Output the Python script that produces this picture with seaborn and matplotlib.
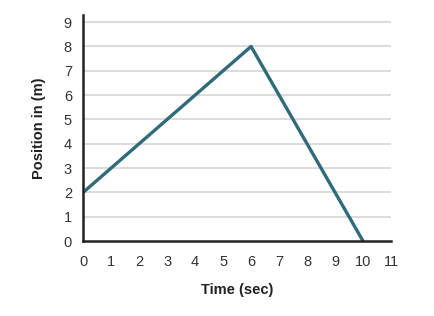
import matplotlib
matplotlib.use("Agg")
import matplotlib.pyplot as plt
import seaborn as sns
import pandas as pd

time_sec = [0, 6, 10]
position_m = [2, 8, 0]
x_ticks = list(range(0, 12))
y_ticks = list(range(0, 10))

sns.set_style("white")
plt.rcParams['font.family'] = ['Liberation Sans', 'DejaVu Sans']

df = pd.DataFrame({"Time (sec)": time_sec, "Position in (m)": position_m})

fig = plt.figure(figsize=(4.35, 3.16), dpi=100)
ax = fig.add_axes([0.191, 0.237, 0.708, 0.716])
for yv in y_ticks[1:]:
    ax.axhline(yv, color="#d9d9d9", lw=1.3, zorder=0)
sns.lineplot(data=df, x="Time (sec)", y="Position in (m)", ax=ax,
             color="#2f6b78", lw=2.4, sort=False)
ax.set_xlim(0, 11)
ax.set_ylim(0, 9.3)
ax.set_xticks(x_ticks)
ax.set_yticks(y_ticks)
ax.tick_params(axis="x", direction="out", length=5, width=1.5, color="#222222",
               labelsize=10.5, labelcolor="#333333", pad=5)
ax.tick_params(axis="y", length=0, labelsize=10.5, labelcolor="#333333", pad=8)
for s in ["top", "right"]:
    ax.spines[s].set_visible(False)
for s in ["left", "bottom"]:
    ax.spines[s].set_color("#222222")
    ax.spines[s].set_linewidth(1.8)
ax.set_xlabel("Time (sec)", fontsize=10.5, fontweight="bold", color="#222222", labelpad=10)
ax.set_ylabel("Position in (m)", fontsize=10.5, fontweight="bold", color="#222222", labelpad=13)
fig.savefig("out.png", dpi=100)
